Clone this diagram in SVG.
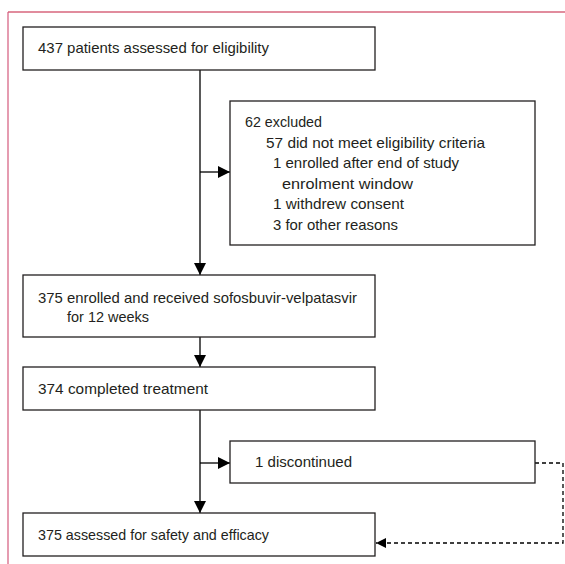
<svg xmlns="http://www.w3.org/2000/svg" width="565" height="564" viewBox="0 0 565 564">
<style>
.frame-top{fill:none;stroke:#c41a3c;stroke-width:1.2}
.frame-left{fill:none;stroke:#d45a7c;stroke-width:1.2}
.box{fill:#fff;stroke:#231f20;stroke-width:1.3}
.t{font-family:"Liberation Sans",Arial,sans-serif;font-size:14.8px;fill:#231f20}
.ln{fill:none;stroke:#000;stroke-width:1.3}
.dash{fill:none;stroke:#000;stroke-width:1.3;stroke-dasharray:4 3}
</style>
<defs>
<marker id="ah" markerUnits="userSpaceOnUse" markerWidth="12" markerHeight="12" refX="12" refY="6" orient="auto">
<path d="M0,0 L12,6 L0,12 Z" fill="#000"/>
</marker>
<marker id="ahs" markerUnits="userSpaceOnUse" markerWidth="11" markerHeight="11" refX="10" refY="5" orient="auto">
<path d="M0,0 L10,5 L0,10 Z" fill="#000"/>
</marker>
</defs>
<rect width="565" height="564" fill="#fff"/>
<path class="frame-top" d="M8,12 H565"/>
<path class="frame-left" d="M8,12 V564"/>
<g id="connectors">
<path class="ln" d="M200,70 V275" marker-end="url(#ah)"/>
<path class="ln" d="M200,172 H230" marker-end="url(#ah)"/>
<path class="ln" d="M200,337 V367" marker-end="url(#ah)"/>
<path class="ln" d="M200,410 V513" marker-end="url(#ah)"/>
<path class="ln" d="M200,463 H230" marker-end="url(#ah)"/>
<path class="dash" d="M535,463 H563 V543 H376" marker-end="url(#ahs)"/>
</g>
<g id="assessed">
<rect class="box" x="23" y="27" width="352" height="43"/>
<text class="t" x="38" y="53" textLength="231" lengthAdjust="spacingAndGlyphs">437 patients assessed for eligibility</text>
</g>
<g id="excluded">
<rect class="box" x="230" y="101" width="305" height="144"/>
<text class="t" x="245" y="127" textLength="77" lengthAdjust="spacingAndGlyphs">62 excluded</text>
<text class="t" x="266" y="147.6" textLength="219" lengthAdjust="spacingAndGlyphs">57 did not meet eligibility criteria</text>
<text class="t" x="273" y="168.2" textLength="186" lengthAdjust="spacingAndGlyphs">1 enrolled after end of study</text>
<text class="t" x="282" y="188.8" textLength="131" lengthAdjust="spacingAndGlyphs">enrolment window</text>
<text class="t" x="273" y="209.4" textLength="131" lengthAdjust="spacingAndGlyphs">1 withdrew consent</text>
<text class="t" x="273" y="230" textLength="125" lengthAdjust="spacingAndGlyphs">3 for other reasons</text>
</g>
<g id="enrolled">
<rect class="box" x="23" y="275" width="352" height="62"/>
<text class="t" x="38" y="303" textLength="319" lengthAdjust="spacingAndGlyphs">375 enrolled and received sofosbuvir-velpatasvir</text>
<text class="t" x="67" y="322" textLength="82" lengthAdjust="spacingAndGlyphs">for 12 weeks</text>
</g>
<g id="completed">
<rect class="box" x="23" y="367" width="352" height="43"/>
<text class="t" x="38" y="394" textLength="170" lengthAdjust="spacingAndGlyphs">374 completed treatment</text>
</g>
<g id="discontinued">
<rect class="box" x="230" y="441" width="305" height="42"/>
<text class="t" x="255" y="467" textLength="97" lengthAdjust="spacingAndGlyphs">1 discontinued</text>
</g>
<g id="safety">
<rect class="box" x="23" y="513" width="352" height="43"/>
<text class="t" x="38" y="540" textLength="231" lengthAdjust="spacingAndGlyphs">375 assessed for safety and efficacy</text>
</g>
</svg>
